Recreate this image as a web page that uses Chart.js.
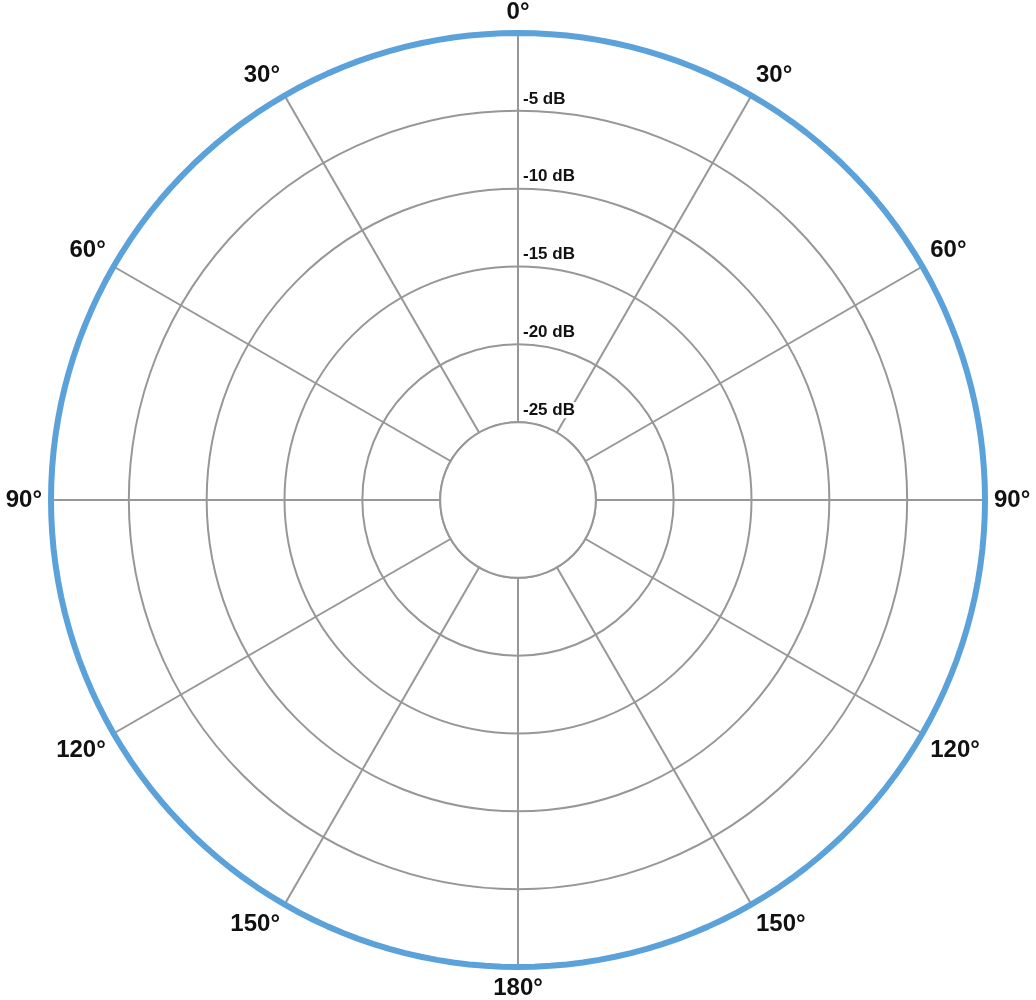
<!DOCTYPE html>
<html>
<head>
<meta charset="utf-8">
<script src="https://cdn.jsdelivr.net/npm/chart.js@4/dist/chart.umd.min.js"></script>
<style>
  html, body { margin: 0; padding: 0; background: #ffffff; }
  #wrap { width: 1036px; height: 1000px; position: relative; }
</style>
</head>
<body>
<div id="wrap"><canvas id="c"></canvas></div>
<script>
// ---- data ----
// angle positions (degrees, clockwise from top) at which the pattern is sampled (every 2°)
const ANGLES = [
  0,2,4,6,8,10,12,14,16,18,20,22,24,26,28,30,32,34,36,38,40,42,44,46,48,50,52,54,56,58,
  60,62,64,66,68,70,72,74,76,78,80,82,84,86,88,90,92,94,96,98,100,102,104,106,108,110,112,114,116,118,
  120,122,124,126,128,130,132,134,136,138,140,142,144,146,148,150,152,154,156,158,160,162,164,166,168,170,172,174,176,178,
  180,182,184,186,188,190,192,194,196,198,200,202,204,206,208,210,212,214,216,218,220,222,224,226,228,230,232,234,236,238,
  240,242,244,246,248,250,252,254,256,258,260,262,264,266,268,270,272,274,276,278,280,282,284,286,288,290,292,294,296,298,
  300,302,304,306,308,310,312,314,316,318,320,322,324,326,328,330,332,334,336,338,340,342,344,346,348,350,352,354,356,358];
// omnidirectional response (dB), one value per angle above
const RESPONSE_DB = [
  0,0,0,0,0,0,0,0,0,0,0,0,0,0,0,0,0,0,0,0,0,0,0,0,0,0,0,0,0,0,
  0,0,0,0,0,0,0,0,0,0,0,0,0,0,0,0,0,0,0,0,0,0,0,0,0,0,0,0,0,0,
  0,0,0,0,0,0,0,0,0,0,0,0,0,0,0,0,0,0,0,0,0,0,0,0,0,0,0,0,0,0,
  0,0,0,0,0,0,0,0,0,0,0,0,0,0,0,0,0,0,0,0,0,0,0,0,0,0,0,0,0,0,
  0,0,0,0,0,0,0,0,0,0,0,0,0,0,0,0,0,0,0,0,0,0,0,0,0,0,0,0,0,0,
  0,0,0,0,0,0,0,0,0,0,0,0,0,0,0,0,0,0,0,0,0,0,0,0,0,0,0,0,0,0];
// spokes and their labels
const LABELED_ANGLES = [0,30,60,90,120,150,180,210,240,270,300,330];
const AXIS_LABELS = ['0°','30°','60°','90°','120°','150°','180°','150°','120°','90°','60°','30°'];
// radial axis
const DB_MIN = -30;
const DB_MAX = 0;
const DB_STEP = 5;
const TICK_VALUES = [-25,-20,-15,-10,-5];
const TICK_LABELS = ['-25 dB','-20 dB','-15 dB','-10 dB','-5 dB'];
const INNER_RING_DB = -25;

// ---- styles ----
const GRID = '#979797';
const BLUE = '#5aa2d9';
const FONT = "'Liberation Sans', Arial, Helvetica, sans-serif";

const scaleLabels = ANGLES.map(a => {
  const k = LABELED_ANGLES.indexOf(a);
  return k >= 0 ? AXIS_LABELS[k] : '';
});

const decor = {
  id: 'decor',
  beforeDatasetsDraw(chart) {
    const s = chart.scales.r;
    const ctx = chart.ctx;
    const rr = s.getDistanceFromCenterForValue(INNER_RING_DB);
    ctx.save();
    ctx.beginPath();
    ctx.arc(s.xCenter, s.yCenter, rr, 0, Math.PI * 2);
    ctx.fillStyle = '#ffffff';
    ctx.fill();
    ctx.lineWidth = 2;
    ctx.strokeStyle = GRID;
    ctx.stroke();
    ctx.restore();
  },
  afterDatasetsDraw(chart) {
    const s = chart.scales.r;
    const ctx = chart.ctx;
    ctx.save();
    ctx.font = 'bold 17px ' + FONT;
    ctx.textAlign = 'left';
    ctx.textBaseline = 'middle';
    TICK_VALUES.forEach((v, i) => {
      const d = s.getDistanceFromCenterForValue(v);
      const x = s.xCenter + 5;
      const y = s.yCenter - d - 12;
      const w = ctx.measureText(TICK_LABELS[i]).width;
      ctx.fillStyle = '#ffffff';
      ctx.fillRect(x - 1, y - 8, w + 2, 16);
      ctx.fillStyle = '#111111';
      ctx.fillText(TICK_LABELS[i], x, y);
    });
    ctx.restore();
  }
};

new Chart(document.getElementById('c'), {
  type: 'radar',
  data: {
    labels: scaleLabels,
    datasets: [{
      label: 'Response',
      data: RESPONSE_DB,
      borderColor: BLUE,
      borderWidth: 6,
      borderJoinStyle: 'round',
      pointRadius: 0,
      pointHoverRadius: 0,
      fill: false,
      tension: 0
    }]
  },
  options: {
    responsive: true,
    maintainAspectRatio: false,
    animation: false,
    layout: { padding: 0 },
    plugins: {
      legend: { display: false },
      tooltip: { enabled: false }
    },
    scales: {
      r: {
        min: DB_MIN,
        max: DB_MAX,
        startAngle: 0,
        ticks: { stepSize: DB_STEP, display: false },
        grid: { circular: true, color: GRID, lineWidth: 2 },
        angleLines: {
          color: c => LABELED_ANGLES.includes(ANGLES[c.index]) ? GRID : 'rgba(0,0,0,0)',
          lineWidth: c => LABELED_ANGLES.includes(ANGLES[c.index]) ? 2 : 0
        },
        pointLabels: {
          padding: 9,
          color: '#111111',
          font: { family: FONT, size: 24, weight: 'bold', lineHeight: 1 }
        }
      }
    }
  },
  plugins: [decor]
});
</script>
</body>
</html>
